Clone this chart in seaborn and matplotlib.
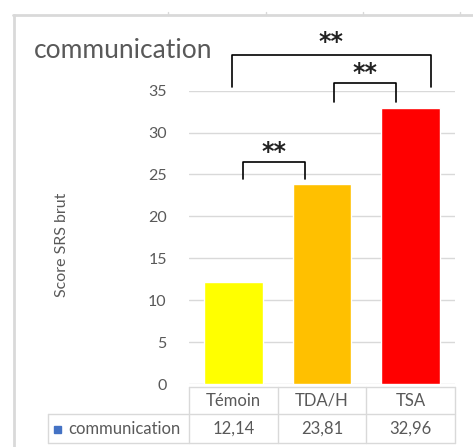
import matplotlib
matplotlib.use('Agg')
import matplotlib.pyplot as plt
from matplotlib.lines import Line2D
from matplotlib.patches import Rectangle
from matplotlib.transforms import blended_transform_factory
import seaborn as sns
import pandas as pd

# données
groupes = ['Témoin', 'TDA/H', 'TSA']
scores = [12.14, 23.81, 32.96]
scores_txt = ['12,14', '23,81', '32,96']
couleurs = ['#FFFF00', '#FFC000', '#FF0000']
serie = 'communication'
yticks = [0, 5, 10, 15, 20, 25, 30, 35]

# comparaisons significatives : (x gauche, x droite, y barre, y pieds, y texte, texte)
comparaisons = [
    (0.11, 0.81, 26.5, 24.5, 27.7, '**'),
    (1.14, 1.84, 35.9, 33.6, 37.1, '**'),
    (-0.02, 2.23, 39.3, 35.4, 40.8, '**'),
]

sns.set_style('white')
plt.rcParams['font.family'] = ['Lato', 'DejaVu Sans']

W, H = 473, 447
fig = plt.figure(figsize=(W / 100, H / 100), dpi=100)

def px(x, y):
    return x / W, 1 - y / H

gris = '#595959'
ligne = '#d9d9d9'

l, b = px(189, 384)
r, t = px(455, 90.7)
ax = fig.add_axes([l, b, r - l, t - b])

df = pd.DataFrame({'groupe': groupes, 'score': scores})
sns.barplot(data=df, x='groupe', y='score', hue='groupe', palette=couleurs,
            width=0.66, legend=False, ax=ax, saturation=1)

ax.set_ylim(0, 35)
ax.set_xlim(-0.5, 2.5)
ax.set_yticks(yticks)
ax.set_yticklabels([str(v) for v in yticks], color=gris, fontsize=11.5)
ax.tick_params(axis='y', length=0, pad=16)
ax.set_xticks([])
ax.set_xlabel('')
ax.set_ylabel('')
for s in ax.spines.values():
    s.set_visible(False)
ax.yaxis.grid(True, color=ligne, lw=1)
ax.set_axisbelow(True)

# accolades de significativité
for x0, x1, yb, yp, yt, txt in comparaisons:
    ax.plot([x0, x0, x1, x1], [yp, yb, yb, yp], color='black', lw=1.2,
            clip_on=False, solid_joinstyle='round')
    ax.text((x0 + x1) / 2, yt, txt, ha='center', va='center',
            fontsize=17, family='DejaVu Sans', fontweight='bold',
            color='#222222', clip_on=False)

# titre et axe
fig.text(*px(34, 50), 'communication', fontsize=19, color=gris,
         ha='left', va='center')
fig.text(*px(62, 245), 'Score SRS brut', fontsize=11.5, color=gris,
         rotation=90, ha='center', va='center')

# cadre du graphique
fig.add_artist(Line2D(*zip(px(13, 15), px(473, 15)), color=ligne, lw=2))
fig.add_artist(Line2D(*zip(px(14, 15), px(14, 447)), color=ligne, lw=2))
for xt in [168, 266, 363, 460]:
    fig.add_artist(Line2D(*zip(px(xt, 12), px(xt, 15)), color=ligne, lw=1))

# table de données
segments = [
    ((189, 387), (455, 387)),
    ((48, 414), (455, 414)),
    ((48, 443), (455, 443)),
    ((48, 414), (48, 443)),
    ((189, 387), (189, 443)),
    ((278, 387), (278, 443)),
    ((366, 387), (366, 443)),
    ((455, 387), (455, 443)),
]
for p0, p1 in segments:
    fig.add_artist(Line2D(*zip(px(*p0), px(*p1)), color=ligne, lw=1))

trans = blended_transform_factory(ax.transData, fig.transFigure)
for i, (g, v) in enumerate(zip(groupes, scores_txt)):
    ax.text(i, px(0, 401)[1], g, transform=trans, ha='center', va='center',
            fontsize=12, color=gris)
    ax.text(i, px(0, 429)[1], v, transform=trans, ha='center', va='center',
            fontsize=12, color=gris)

x0, y0 = px(54, 433)
fig.add_artist(Rectangle((x0, y0), 7 / W, 7 / H, transform=fig.transFigure,
                         color='#4472C4'))
fig.text(*px(68, 429), serie, fontsize=12, color=gris, ha='left', va='center')

fig.savefig('out.png', dpi=100)
